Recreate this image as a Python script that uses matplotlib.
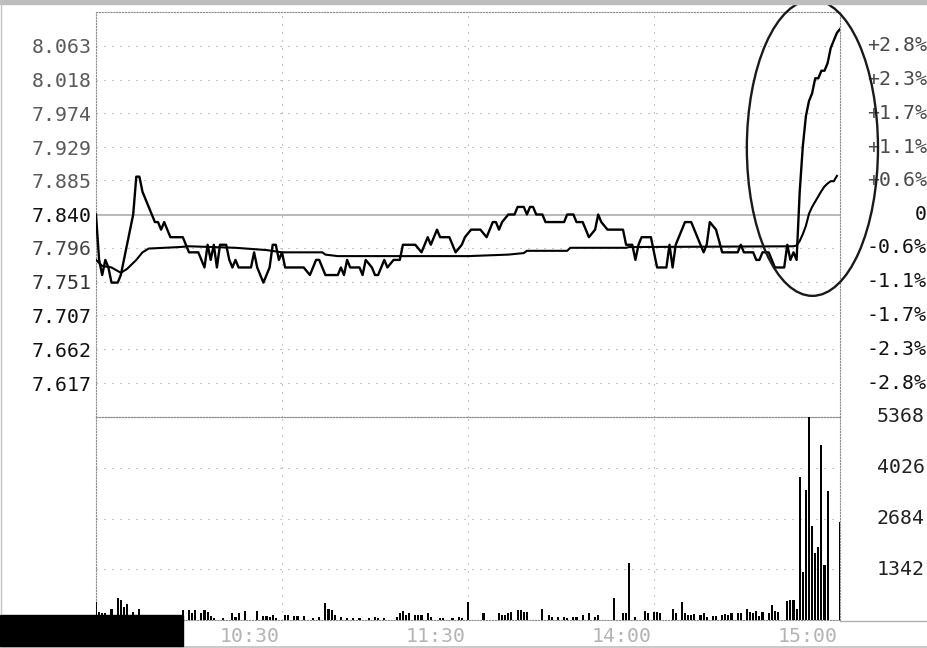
import matplotlib
matplotlib.use("Agg")
import matplotlib.pyplot as plt
import matplotlib.transforms as mtransforms
from matplotlib.patches import Ellipse, Rectangle
from matplotlib.lines import Line2D

# intraday minute chart, minutes counted from 9:30 with the lunch break removed
prev_close = 7.840

price_min = [0, 1, 2, 3, 4, 5, 7, 8, 9, 10,
             11, 12, 13, 14, 15, 16, 17, 18, 19, 20,
             21, 22, 23, 24, 28, 29, 30, 33, 34, 35,
             36, 37, 38, 39, 40, 42, 43, 44, 45, 46,
             50, 51, 52, 53, 54, 55, 56, 57, 58, 59,
             60, 61, 67, 69, 70, 71, 72, 73, 74, 78,
             79, 80, 81, 82, 85, 86, 87, 89, 90, 91,
             92, 93, 94, 96, 98, 99, 103, 105, 106, 107,
             108, 109, 110, 111, 114, 116, 118, 119, 121, 124,
             126, 128, 129, 130, 131, 133, 135, 136, 138, 139,
             140, 141, 142, 144, 145, 151, 152, 154, 155, 157,
             159, 161, 162, 163, 165, 170, 171, 173, 174, 175,
             176, 179, 180, 181, 184, 185, 186, 187, 189, 190,
             192, 193, 196, 197, 198, 200, 202, 207, 208, 209,
             212, 213, 214, 215, 217, 218, 219, 222, 223, 224,
             225, 226, 227, 228, 229, 230, 231, 232, 233, 234,
             235, 236, 237, 238, 239, 240]
price_val = [7.84, 7.78, 7.76, 7.78, 7.77, 7.75, 7.75, 7.76, 7.78, 7.80,
             7.82, 7.84, 7.89, 7.89, 7.87, 7.86, 7.85, 7.84, 7.83, 7.83,
             7.82, 7.83, 7.82, 7.81, 7.81, 7.80, 7.79, 7.79, 7.78, 7.77,
             7.80, 7.78, 7.80, 7.77, 7.80, 7.80, 7.78, 7.77, 7.78, 7.77,
             7.77, 7.79, 7.77, 7.76, 7.75, 7.76, 7.77, 7.80, 7.80, 7.78,
             7.79, 7.77, 7.77, 7.76, 7.77, 7.78, 7.78, 7.77, 7.76, 7.76,
             7.77, 7.76, 7.78, 7.77, 7.77, 7.76, 7.78, 7.77, 7.76, 7.76,
             7.77, 7.78, 7.77, 7.78, 7.78, 7.80, 7.80, 7.79, 7.80, 7.81,
             7.80, 7.81, 7.82, 7.81, 7.81, 7.79, 7.80, 7.81, 7.82, 7.82,
             7.81, 7.83, 7.83, 7.82, 7.83, 7.84, 7.84, 7.85, 7.85, 7.84,
             7.85, 7.85, 7.84, 7.84, 7.83, 7.83, 7.84, 7.84, 7.83, 7.83,
             7.81, 7.82, 7.84, 7.83, 7.82, 7.82, 7.80, 7.80, 7.78, 7.80,
             7.81, 7.81, 7.79, 7.77, 7.77, 7.80, 7.77, 7.80, 7.82, 7.83,
             7.83, 7.82, 7.79, 7.80, 7.83, 7.82, 7.79, 7.79, 7.80, 7.79,
             7.79, 7.78, 7.78, 7.79, 7.79, 7.78, 7.77, 7.77, 7.80, 7.78,
             7.79, 7.78, 7.87, 7.93, 7.97, 7.99, 8.00, 8.02, 8.02, 8.03,
             8.03, 8.04, 8.06, 8.07, 8.08, 8.085]

# average price line
avg_min = [0, 2, 5, 8, 10, 13, 15, 17, 27, 30,
           45, 55, 60, 73, 74, 78, 120, 133, 138, 139,
           152, 153, 171, 172, 225, 226, 227, 228, 229, 230,
           231, 232, 233, 234, 235, 236, 237, 238, 239]
avg_val = [7.780, 7.772, 7.770, 7.763, 7.768, 7.780, 7.790, 7.795, 7.797, 7.798,
           7.796, 7.793, 7.790, 7.790, 7.787, 7.785, 7.785, 7.787, 7.789, 7.792,
           7.792, 7.796, 7.796, 7.797, 7.798, 7.799, 7.805, 7.814, 7.825, 7.841,
           7.850, 7.857, 7.864, 7.871, 7.877, 7.881, 7.884, 7.884, 7.891]

vol_min = [0, 1, 2, 3, 4, 5, 6, 7, 8, 9,
           10, 11, 12, 13, 14, 16, 18, 20, 23, 26,
           28, 30, 31, 32, 34, 35, 36, 37, 38, 41,
           44, 45, 46, 48, 52, 54, 55, 56, 57, 58,
           61, 62, 64, 65, 67, 70, 72, 74, 75, 76,
           77, 79, 81, 83, 85, 88, 90, 91, 93, 97,
           98, 99, 100, 101, 103, 104, 105, 107, 108, 111,
           112, 115, 117, 118, 120, 125, 130, 131, 132, 133,
           134, 136, 137, 138, 139, 144, 146, 147, 149, 151,
           152, 154, 155, 157, 159, 161, 162, 167, 170, 171,
           172, 174, 177, 178, 180, 181, 182, 186, 187, 189,
           190, 191, 192, 193, 195, 196, 197, 199, 200, 202,
           203, 204, 205, 207, 208, 210, 211, 212, 213, 214,
           215, 217, 218, 219, 220, 223, 224, 225, 226, 227,
           228, 229, 230, 231, 232, 233, 234, 235, 236, 240]
vol_val = [485, 220, 177, 177, 120, 282, 100, 573, 529, 352,
           423, 100, 220, 80, 282, 90, 70, 80, 60, 70,
           264, 264, 177, 264, 177, 264, 220, 106, 44, 44,
           177, 88, 176, 247, 247, 106, 106, 88, 132, 44,
           132, 132, 106, 106, 106, 44, 88, 458, 282, 264,
           132, 88, 44, 44, 44, 44, 88, 44, 44, 88,
           176, 247, 132, 176, 132, 132, 132, 176, 88, 44,
           44, 44, 88, 44, 485, 177, 176, 132, 132, 176,
           220, 264, 264, 220, 220, 282, 132, 88, 88, 88,
           44, 88, 88, 132, 176, 88, 132, 573, 176, 194,
           1516, 88, 247, 194, 220, 220, 176, 282, 176, 485,
           176, 132, 132, 150, 132, 176, 88, 106, 106, 132,
           160, 132, 176, 194, 176, 282, 220, 194, 247, 106,
           220, 176, 397, 238, 220, 512, 529, 529, 300, 3790,
           1277, 3437, 5368, 2485, 1780, 1938, 4627, 1454, 3418, 2582]

price_labels = ['8.063', '8.018', '7.974', '7.929', '7.885', '7.840',
                '7.796', '7.751', '7.707', '7.662', '7.617']
pct_labels = ['+2.8%', '+2.3%', '+1.7%', '+1.1%', '+0.6%', '0',
              '-0.6%', '-1.1%', '-1.7%', '-2.3%', '-2.8%']
vol_labels = ['5368', '4026', '2684', '1342']
time_min = [60, 120, 180, 240]
time_labels = ['10:30', '11:30', '14:00', '15:00']

W, H = 928, 648
MONO = 'DejaVu Sans Mono'
FS = 14.3
GRID = '#9a9a9a'


def box(x0, y0, x1, y1):
    return [x0 / W, 1 - y1 / H, (x1 - x0) / W, (y1 - y0) / H]


fig = plt.figure(figsize=(W / 100, H / 100), dpi=100)
fig.patch.set_facecolor('white')

ax = fig.add_axes(box(96, 12, 840, 417))
axv = fig.add_axes(box(96, 417, 840, 620))
axv.patch.set_alpha(0)

step = (float(price_labels[0]) - prev_close) / 5
ax.set_ylim(prev_close - 6 * step, prev_close + 6 * step)
ax.set_xlim(0, 240)
axv.set_xlim(0, 240)
axv.set_ylim(0, float(vol_labels[0]))

sparse = (0, (1, 6.2))
for a in (ax, axv):
    for s in a.spines.values():
        s.set_linestyle((0, (1, 1.6)))
        s.set_color('#8c8c8c')
        s.set_linewidth(0.8)
    a.set_xticks([])
    for t in time_min[:-1]:
        a.axvline(t, color=GRID, lw=0.8, ls=sparse, zorder=1)

# price panel
for lab in price_labels:
    v = float(lab)
    if lab == '7.840':
        ax.axhline(prev_close, color='#a6a6a6', lw=1.1, zorder=2)
    else:
        ax.axhline(v, color=GRID, lw=0.8, ls=sparse, zorder=1)

ax.plot(avg_min, avg_val, color='black', lw=1.5, zorder=4)
ax.plot(price_min, price_val, color='black', lw=1.7, zorder=5)

ax.set_yticks([float(l) for l in price_labels])
ax.set_yticklabels(price_labels, fontfamily=MONO, fontsize=FS)
ax.tick_params(axis='y', length=0, pad=2.9)
left_colors = ['#5a5a5a'] * 5 + ['#111111', '#444444', '#333333'] + ['#111111'] * 3
for tl, c in zip(ax.get_yticklabels(), left_colors):
    tl.set_color(c)

tr_price = mtransforms.blended_transform_factory(fig.transFigure, ax.transData)
for lab, pl in zip(price_labels, pct_labels):
    c = '#4a4a4a' if pl.startswith('+') else '#111111'
    ax.text(927 / W, float(lab), pl, transform=tr_price, ha='right', va='center',
            fontfamily=MONO, fontsize=FS, color=c)

# circle around the late surge
ax.add_patch(Ellipse((231.1, 7.928), 42.3, 0.391, fill=False, ec='#1a1a1a',
                     lw=1.7, clip_on=False, zorder=6))

# volume panel
for lab in vol_labels[1:]:
    axv.axhline(float(lab), color=GRID, lw=0.8, ls=sparse, zorder=1)
axv.bar(vol_min, vol_val, width=0.65, color='black', linewidth=0, zorder=3)
axv.set_yticks([])
tr_vol = mtransforms.blended_transform_factory(fig.transFigure, axv.transData)
for lab in vol_labels:
    axv.text(925 / W, float(lab), lab, transform=tr_vol, ha='right', va='center',
             fontfamily=MONO, fontsize=FS, color='#222222')

tr_time = mtransforms.blended_transform_factory(axv.transData, fig.transFigure)
for t, lab in zip(time_min, time_labels):
    axv.text(t - 0.9, 1 - 636 / H, lab, transform=tr_time, ha='right', va='center',
             fontfamily=MONO, fontsize=FS, color='#b4b4b4')

# window frame bits and the black box in the corner
fig.add_artist(Rectangle((0, 1 - 4 / H), 1, 4 / H, transform=fig.transFigure,
                         color='#bdbdbd', zorder=8))
fig.add_artist(Line2D([0.6 / W, 0.6 / W], [1 - 615 / H, 1], transform=fig.transFigure,
                      color='#c4c4c4', lw=1, zorder=8))
fig.add_artist(Line2D([840 / W, 1], [1 - 621 / H, 1 - 621 / H], transform=fig.transFigure,
                      color='#b0b0b0', lw=1, zorder=8))
fig.add_artist(Line2D([0, 1], [1 - 647 / H, 1 - 647 / H], transform=fig.transFigure,
                      color='#c0c0c0', lw=1.2, zorder=8))
fig.add_artist(Rectangle((0, 1 - 646 / H), 183 / W, 31 / H, transform=fig.transFigure,
                         color='black', zorder=10))

fig.savefig('out.png', dpi=100)
